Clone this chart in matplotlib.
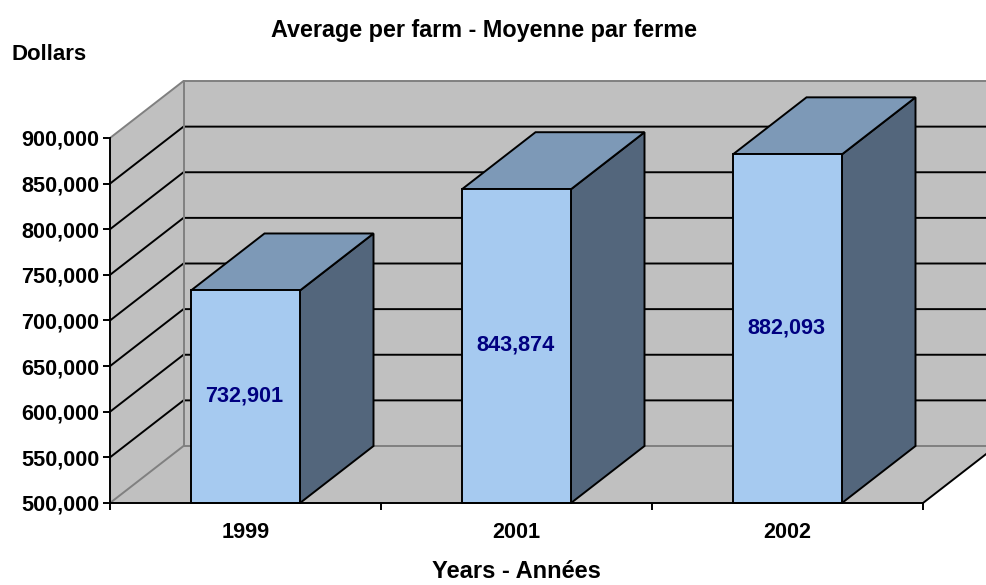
import matplotlib
matplotlib.use("Agg")
import matplotlib.pyplot as plt

plt.rcParams['font.family'] = ['Liberation Sans', 'DejaVu Sans']

years = ['1999', '2001', '2002']
values = [732901, 843874, 882093]
value_labels = ['732,901', '843,874', '882,093']
y_ticks = [500000, 550000, 600000, 650000, 700000, 750000, 800000, 850000, 900000]

W, H = 987, 585
fig = plt.figure(figsize=(W / 100, H / 100), dpi=100, facecolor='white')
L, R, T, B = 110, 923, 138, 503
ax = fig.add_axes([L / W, 1 - B / H, (R - L) / W, (B - T) / H], facecolor='none')
ax.set_xlim(0, 3)
ax.set_ylim(500000, 900000)

DX = 73.5 / (R - L) * 3
DY = 57 / (B - T) * 400000
BW = 109 / (R - L) * 3
WALL = '#C0C0C0'
GRAY = '#808080'
FRONT, TOP, SIDE = '#A6CAF0', '#7D99B7', '#53667C'
LW = 1.4
y0, y1 = y_ticks[0], y_ticks[-1]
x_far = 3 + DX

# walls and floor
ax.fill([0, DX, DX, 0], [y0, y0 + DY, y1 + DY, y1], color=WALL, lw=0, clip_on=False, zorder=1)
ax.fill([DX, x_far, x_far, DX], [y0 + DY, y0 + DY, y1 + DY, y1 + DY], color=WALL, lw=0, clip_on=False, zorder=1)
ax.fill([0, 3, x_far, DX], [y0, y0, y0 + DY, y0 + DY], color=WALL, lw=0, clip_on=False, zorder=1)

# gridlines
for v in y_ticks:
    c = GRAY if v in (y0, y1) else 'black'
    ax.plot([0, DX, x_far], [v, v + DY, v + DY], color=c, lw=LW, clip_on=False, zorder=2,
            solid_joinstyle='miter')
ax.plot([DX, DX], [y0 + DY, y1 + DY], color=GRAY, lw=LW, clip_on=False, zorder=2)
ax.plot([3, x_far], [y0, y0 + DY], color='black', lw=LW, clip_on=False, zorder=2)

# bars
for i, (v, lab) in enumerate(zip(values, value_labels)):
    xl = i + 0.5 - BW / 2
    xr = xl + BW
    edge = dict(edgecolor='black', lw=LW, clip_on=False, zorder=3, joinstyle='miter')
    ax.fill([xr, xr + DX, xr + DX, xr], [y0, y0 + DY, v + DY, v], facecolor=SIDE, **edge)
    ax.fill([xl, xr, xr + DX, xl + DX], [v, v, v + DY, v + DY], facecolor=TOP, **edge)
    ax.fill([xl, xr, xr, xl], [y0, y0, v, v], facecolor=FRONT, **edge)
    ax.text(i + 0.497, (y0 + v) / 2 + 1000, lab, color='#000080', fontsize=15.6, fontweight='bold',
            ha='center', va='center', zorder=4)

# axes
for s in ('top', 'right'):
    ax.spines[s].set_visible(False)
for s in ('left', 'bottom'):
    ax.spines[s].set_linewidth(LW)
    ax.spines[s].set_zorder(5)
ax.set_yticks(y_ticks)
ax.set_yticklabels([f'{v:,}' for v in y_ticks], fontsize=15.6, fontweight='bold')
ax.set_xticks([0, 1, 2, 3])
ax.set_xticklabels([])
ax.set_xticks([0.5, 1.5, 2.5], minor=True)
ax.set_xticklabels(years, minor=True, fontsize=15.6, fontweight='bold')
ax.tick_params(axis='both', which='major', length=5, width=LW, color='black', pad=2.5)
ax.tick_params(axis='x', which='minor', length=0, pad=14)

fig.text(484 / W, 1 - 30 / H, 'Average per farm - Moyenne par ferme', fontsize=16.8, fontweight='bold',
         ha='center', va='center')
fig.text(12 / W, 1 - 54 / H, 'Dollars', fontsize=16, fontweight='bold', ha='left', va='center')
fig.text(516 / W, 1 - 572 / H, 'Years - Années', fontsize=17, fontweight='bold', ha='center', va='center')

fig.savefig('out.png', dpi=100)
